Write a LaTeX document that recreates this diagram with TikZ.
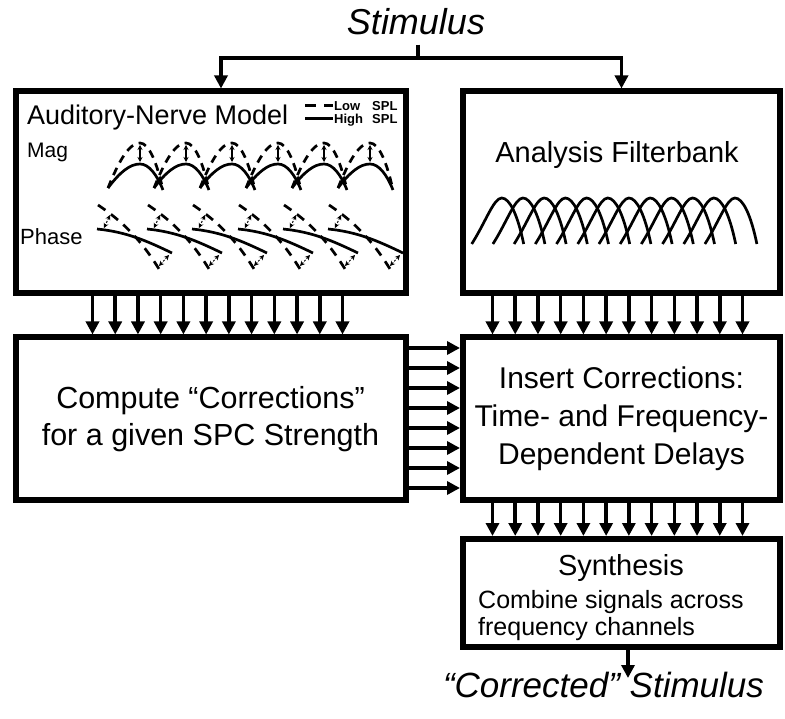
\documentclass[tikz,border=0pt]{standalone}
\usepackage{fontspec}
\setmainfont{Liberation Sans}
\usepackage{tikz}
\usetikzlibrary{positioning,arrows.meta,shapes,calc}

\begin{document}
\begin{tikzpicture}[x=1pt,y=-1pt, node distance=44pt, every node/.style={inner sep=0pt},
    box/.style={draw,line width=6pt,minimum width=390pt,outer sep=0pt},
    sig/.style={line width=3.5pt,-{Triangle[length=13pt,width=13pt]},shorten >=3pt},
    curve/.style={line width=2.7pt},
    dashes/.style={dash pattern=on 8pt off 6pt},
    dbl/.style={line width=1.3pt,{Stealth[length=5pt,width=5pt]}-{Stealth[length=5pt,width=5pt]}}]
  \useasboundingbox (0,0) rectangle (785,719);

  \node[box,minimum height=202pt] (anm) at (210.5,192.5) {};
  \node[box,minimum width=317pt,minimum height=202pt,right=57.5pt of anm] (afb) {};
  \node[box,minimum height=162.5pt,below=of anm,align=center,
        font=\fontsize{30.5}{37}\selectfont] (cmp) {Compute “Corrections”\\for a given SPC Strength};
  \node[box,minimum width=317pt,minimum height=162.5pt,below=of afb,align=center,
        font=\fontsize{30}{38}\selectfont] (ins) {Insert Corrections:\\Time- and Frequency-\\Dependent Delays};
  \node[box,minimum width=317pt,minimum height=107.5pt,below=39pt of ins] (syn) {};

  \node[font=\itshape\fontsize{36}{40}\selectfont,anchor=base,inner sep=9pt] (stim) at (416,35) {Stimulus};
  \coordinate (split) at (418,58);
  \draw[line width=3.5pt] (stim.south -| split) -- (split);
  \draw[sig] (split) -| ([xshift=10.5pt]anm.north);
  \draw[sig] (split) -| (afb.north);

  % auditory-nerve model
  \node[anchor=base west,font=\fontsize{27}{30}\selectfont] (antitle) at (27,125) {Auditory-Nerve Model};
  \node[anchor=base west,font=\fontsize{21}{24}\selectfont] (mag) at (27,158) {Mag};
  \node[anchor=base west,font=\fontsize{22}{24}\selectfont] (phase) at (20,245) {Phase};
  \draw[line width=3pt,dash pattern=on 11pt off 8pt] (305,106) -- (333,106);
  \draw[line width=3pt] (305,119) -- (333,119);
  \node[anchor=base west,font=\bfseries\fontsize{13}{14}\selectfont] (low) at (334,111) {\makebox[38pt][l]{Low}SPL};
  \node[anchor=base west,font=\bfseries\fontsize{13}{14}\selectfont] (high) at (334,124) {\makebox[38pt][l]{High}SPL};
  \foreach \p in {140,186,232,278,324,370} {
    \draw[curve] (\p-32,188) .. controls +(12,-16) and +(-10,0) .. (\p,164) .. controls +(9,0) and +(-6,-15) .. (\p+23,190);
    \draw[curve,dashes] (\p-32,188) .. controls +(12,-30) and +(-10,0) .. (\p,143) .. controls +(9,0) and +(-6,-27) .. (\p+23,190);
    \draw[dbl] (\p,162) -- (\p,145);
  }
  \foreach \x in {97,147,192,238,283,328} {
    \draw[curve] (\x,229) .. controls +(30,3) and +(-25,-12) .. (\x+75,253);
    \draw[curve,dash pattern=on 9pt off 7pt] (\x+1,205) .. controls +(24,16) and +(-20,-34) .. (\x+65,274);
    \draw[dbl,line width=1pt,dash pattern=on 2pt off 1.5pt] (\x+13,215) -- (\x+7,228);
    \draw[dbl,line width=1pt,dash pattern=on 2pt off 1.5pt] (\x+72,255) -- (\x+62,266);
  }

  % filterbank
  \node[anchor=base,font=\fontsize{29}{32}\selectfont] (fbtitle) at (617,163) {Analysis Filterbank};
  \foreach \i in {0,...,11}
    \draw[curve] ({471.7+21.2*\i},244) .. controls +(14,-22) and +(-8,0) .. ({501.7+21.2*\i},198)
      .. controls +(8,0) and +(-6,-29) .. ({523.7+21.2*\i},244);

  \foreach \i in {0,...,11} {
    \draw[sig] ([xshift={77pt+\i*22.727pt}]anm.south west) -- ([xshift={77pt+\i*22.727pt}]cmp.north west);
    \draw[sig] ([xshift={29.5pt+\i*22.727pt}]afb.south west) -- ([xshift={29.5pt+\i*22.727pt}]ins.north west);
    \draw[sig] ([xshift={29.5pt+\i*22.727pt}]ins.south west) -- ([xshift={29.5pt+\i*22.727pt}]syn.north west);
  }
  \foreach \i in {0,...,7}
    \draw[sig] ([yshift={-10.5pt-\i*20pt}]cmp.north east) -- ([yshift={-10.5pt-\i*20pt}]ins.north west);

  \node[anchor=base,font=\fontsize{29}{32}\selectfont] (syntitle) at (621,575) {Synthesis};
  \node[anchor=base west,align=left,font=\fontsize{25}{27}\selectfont] (syntext) at (478,635) {Combine signals across\\frequency channels};

  \node[anchor=base,font=\itshape\fontsize{35}{40}\selectfont] (out) at (603.5,697) {“Corrected” Stimulus};
  \coordinate (outtip) at (628,678);
  \draw[sig,shorten >=0pt] ([xshift=6.5pt]syn.south) -- (outtip);
\end{tikzpicture}
\end{document}
